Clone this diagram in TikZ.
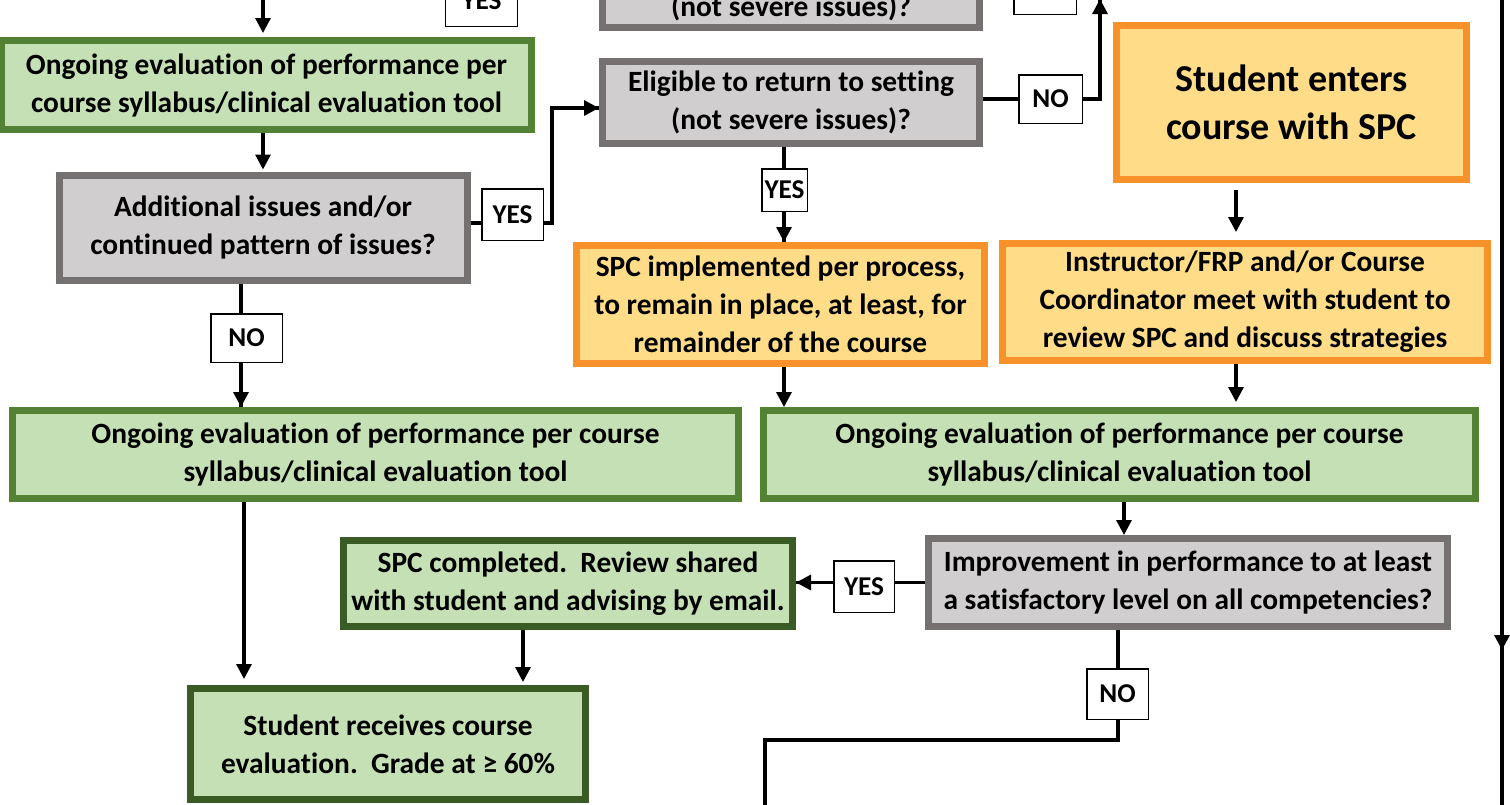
\documentclass[tikz,border=0pt]{standalone}
\usepackage{fontspec}
\setmainfont{Carlito}[RawFeature={-liga}]
\usetikzlibrary{arrows.meta,calc}
\definecolor{gborder}{HTML}{548235}
\definecolor{gdark}{HTML}{3B5B25}
\definecolor{gfill}{HTML}{C5E0B4}
\definecolor{grborder}{HTML}{767171}
\definecolor{grfill}{HTML}{D0CECE}
\definecolor{oborder}{HTML}{F7922A}
\definecolor{ofill}{HTML}{FEDC88}
\frenchspacing
\begin{document}
\begin{tikzpicture}[x=0.5pt,y=-0.5pt,
  box/.style={draw, line width=3.5pt, align=center, font=\bfseries\fontsize{14.7pt}{19pt}\selectfont, inner sep=0pt},
  greenbox/.style={box, draw=gborder, fill=gfill},
  darkgreenbox/.style={box, draw=gdark, fill=gfill},
  graybox/.style={box, draw=grborder, fill=grfill},
  orangebox/.style={box, draw=oborder, fill=ofill},
  bigtext/.style={font=\bfseries\fontsize{19pt}{24pt}\selectfont},
  lbl/.style={draw=black, line width=0.75pt, fill=white, font=\bfseries\fontsize{13.6pt}{16pt}\selectfont, inner sep=0pt},
  conn/.style={line width=1.6pt},
  arr/.style={line width=1.6pt, -{Triangle[length=7.5pt,width=7.5pt]}},
]
\useasboundingbox (0,0) rectangle (1510,804);
\clip (0,0) rectangle (1510,804);
\fill[white] (0,0) rectangle (1510,804);

% boxes
\node[graybox, minimum width=188.5pt, minimum height=41pt] (E0) at (791,-13.5) {\strut\\(not severe issues)?};
\node[greenbox, minimum width=265pt, minimum height=44.5pt] (G1) at (266.5,85) {Ongoing evaluation of performance per\\course syllabus/clinical evaluation tool};
\node[graybox, minimum width=188.5pt, minimum height=41pt] (E1) at (791,102.5) {Eligible to return to setting\\(not severe issues)?};
\node[orangebox, bigtext, minimum width=175pt, minimum height=77pt] (O1) at (1291.5,102.5) {Student enters\\course with SPC};
\node[graybox, minimum width=204pt, minimum height=52.5pt] (D1) at (263,227.5) {Additional issues and/or\\continued pattern of issues?};
\node[orangebox, minimum width=204pt, minimum height=59pt] (O3) at (780.5,304.5) {SPC implemented per process,\\to remain in place, at least, for\\remainder of the course};
\node[orangebox, minimum width=242.5pt, minimum height=58.5pt] (O2) at (1245,302) {Instructor/FRP and/or Course\\Coordinator meet with student to\\review SPC and discuss strategies};
\node[greenbox, minimum width=363pt, minimum height=44pt] (G2) at (375.5,454.5) {Ongoing evaluation of performance per course\\syllabus/clinical evaluation tool};
\node[greenbox, minimum width=356pt, minimum height=44pt] (G3) at (1119.5,454.5) {Ongoing evaluation of performance per course\\syllabus/clinical evaluation tool};
\node[graybox, minimum width=259.5pt, minimum height=44pt] (D2) at (1188,582.5) {Improvement in performance to at least\\a satisfactory level on all competencies?};
\node[darkgreenbox, minimum width=224.5pt, minimum height=43pt] (G4) at (568,583.5) {SPC completed.\ \ Review shared\\with student and advising by email.};
\node[darkgreenbox, minimum width=197.5pt, minimum height=55.5pt] (G5) at (388,744) {Student receives course\\evaluation.\ \ Grade at ≥ 60\%};

% coordinates
\coordinate (topin) at (263,-30);
\coordinate (xB) at (552,0);
\coordinate (xC) at (1100,-1);
\coordinate (xD) at (784,0);
\coordinate (xG) at (1236,0);
\coordinate (xH) at (1124,0);
\coordinate (xI) at (241,0);
\coordinate (xJ) at (244,0);
\coordinate (xK) at (523,0);
\coordinate (xE) at (765,740);
\coordinate (xF) at (765,830);
\coordinate (rt) at (1502,-10);
\coordinate (rm) at (1502,650);
\coordinate (rb) at (1502,830);

% connectors
\draw[arr, shorten >=2pt] (topin) -- (topin |- G1.north);
\draw[arr, shorten >=1pt] (G1.south -| topin) -- (D1.north -| topin);
\draw[conn] ([yshift=2.25pt]D1.east) -- ([yshift=2.25pt]D1.east -| xB) |- ([yshift=-2.75pt]E1.west);
\draw[arr] ([yshift=-2.75pt]E1.west -| xB) -- ([yshift=-2.75pt]E1.west);
\draw[conn] (E1.east |- 0,99) -| (xC);
\draw[arr] (xC |- 0,40) -- (xC);
\draw[conn] (E0.east |- 0,-11.5) -- (1060,-11.5);
\draw[conn] (E1.south -| xD) -- (O3.north -| xD);
\draw[arr] (xD |- 0,220) -- (O3.north -| xD);
\draw[arr] (O3.south -| xD) -- (G3.north -| xD);
\draw[arr, shorten <=3.5pt, shorten >=4pt] (O1.south -| xG) -- (O2.north -| xG);
\draw[arr, shorten >=2.5pt] (O2.south -| xG) -- (G3.north -| xG);
\draw[arr] (G3.south -| xH) -- (D2.north -| xH);
\draw[conn] (D1.south -| xI) -- (G2.north -| xI);
\draw[arr] (xI |- 0,370) -- (G2.north -| xI);
\draw[conn] (D2.west) -- (D2.west -| G4.east);
\draw[arr] (D2.west -| 830,0) -- (D2.west -| G4.east);
\draw[conn] (D2.south -| 1118,0) |- (xE) -- (xF);
\draw[arr, shorten >=3pt] (G2.south -| xJ) -- (G5.north -| xJ);
\draw[arr, shorten >=1.5pt] (G4.south -| xK) -- (G5.north -| xK);
\draw[conn] (rt) -- (rb);
\draw[arr] (rt) -- (rm);

% labels
\node[lbl, minimum width=36pt, minimum height=26pt] (Ltop) at (481.5,0.5) {YES};
\node[lbl, minimum width=31.25pt, minimum height=26pt] (Ltr) at (1045,-11.5) {NO};
\node[lbl, minimum width=30.75pt, minimum height=25.75pt] (Lyes1) at (512.5,214.5) {YES};
\node[lbl, minimum width=31.75pt, minimum height=24.25pt] (Lno1) at (1050.5,99) {NO};
\node[lbl, minimum width=22.75pt, minimum height=21.25pt] (Lyes2) at (784.5,190) {YES};
\node[lbl, minimum width=35.75pt, minimum height=24.25pt] (Lno2) at (246.5,338) {NO};
\node[lbl, minimum width=30.25pt, minimum height=25.75pt] (Lyes3) at (864,586.5) {YES};
\node[lbl, minimum width=30.75pt, minimum height=25.25pt] (Lno3) at (1117.5,694) {NO};
\end{tikzpicture}
\end{document}
